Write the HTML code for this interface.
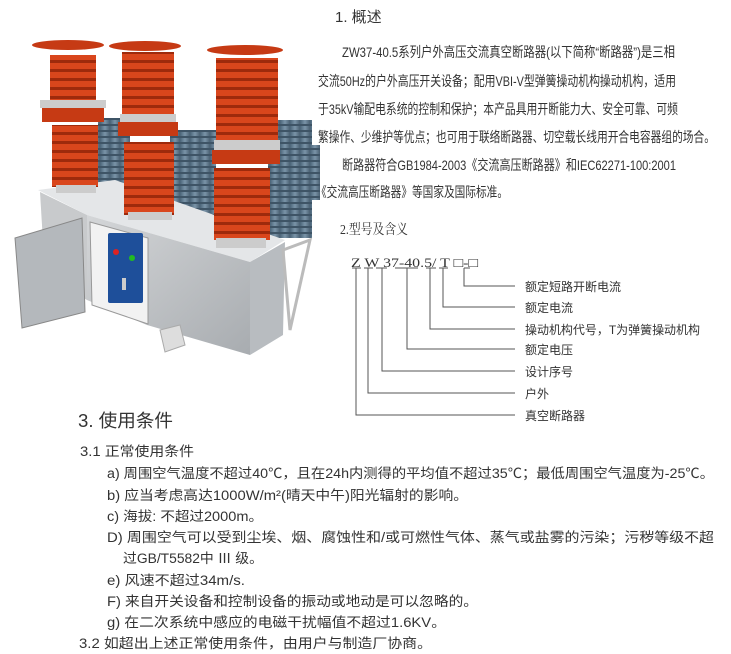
<!DOCTYPE html>
<html><head><meta charset="utf-8"><style>
html,body{margin:0;padding:0;background:#fff;width:731px;height:654px;overflow:hidden}
text{font-family:"Liberation Sans","Noto Sans CJK SC",sans-serif;fill:#333}
.s{font-family:"Liberation Serif","Noto Serif CJK SC",serif}
</style></head><body>
<svg width="731" height="654" viewBox="0 0 731 654" xmlns="http://www.w3.org/2000/svg">
<defs>
<linearGradient id="blu" x1="0" x2="1"><stop offset="0" stop-color="#4a6478"/><stop offset=".5" stop-color="#7a94a8"/><stop offset="1" stop-color="#4a6072"/></linearGradient>
<linearGradient id="met" x1="0" x2="1" y1="0" y2="1"><stop offset="0" stop-color="#d4d6d8"/><stop offset="1" stop-color="#a8acb0"/></linearGradient>
<pattern id="sh" width="10" height="6" patternUnits="userSpaceOnUse"><rect width="10" height="6" fill="url(#blu)"/><rect y="4" width="10" height="2" fill="#3e5466"/></pattern>
<pattern id="rs" width="10" height="9" patternUnits="userSpaceOnUse"><rect width="10" height="9" fill="#d9461c"/><rect y="6" width="10" height="3" fill="#9e2a0c"/></pattern>
</defs>
<rect x="98" y="118" width="32" height="78" fill="url(#sh)"/>
<rect x="170" y="130" width="46" height="85" fill="url(#sh)"/>
<rect x="268" y="120" width="44" height="118" fill="url(#sh)"/>
<rect x="288" y="145" width="32" height="55" fill="url(#sh)"/>
<polygon points="38,190 115,180 285,240 250,262 87,215" fill="#e4e6e8"/>
<polygon points="40,192 87,215 87,300 45,275" fill="#c8cacc"/>
<polygon points="87,215 250,262 250,355 147,325 87,300" fill="url(#met)"/>
<polygon points="250,262 285,242 283,335 250,355" fill="#b8bcc0"/>
<polygon points="283,250 310,240 290,330" fill="none" stroke="#bbb" stroke-width="3"/>
<polygon points="160,330 180,325 185,345 165,352" fill="#ddd" stroke="#aaa"/>
<polygon points="90,222 148,238 148,324 92,305" fill="#f2f2f2" stroke="#999"/>
<rect x="108" y="233" width="35" height="70" rx="2" fill="#1e4f9a"/>
<circle cx="116" cy="252" r="3" fill="#d22"/><circle cx="132" cy="258" r="3" fill="#2b2"/>
<rect x="122" y="278" width="4" height="12" fill="#ccc"/>
<polygon points="15,238 82,218 85,312 22,328" fill="#b4b8bc" stroke="#888"/>
<g>
<rect x="50" y="55" width="46" height="55" fill="url(#rs)"/>
<rect x="40" y="100" width="66" height="8" fill="#ccc"/>
<rect x="42" y="108" width="62" height="14" fill="#c63a14"/>
<rect x="52" y="125" width="46" height="62" fill="url(#rs)"/>
<rect x="56" y="185" width="40" height="8" fill="#ccc"/>
<ellipse cx="68" cy="45" rx="36" ry="5" fill="#c63a14"/>
<rect x="122" y="52" width="52" height="62" fill="url(#rs)"/>
<rect x="120" y="114" width="56" height="8" fill="#ccc"/>
<rect x="118" y="122" width="60" height="14" fill="#c63a14"/>
<rect x="124" y="142" width="50" height="73" fill="url(#rs)"/>
<rect x="128" y="212" width="44" height="8" fill="#ccc"/>
<ellipse cx="145" cy="46" rx="36" ry="5" fill="#c63a14"/>
<rect x="216" y="58" width="62" height="82" fill="url(#rs)"/>
<rect x="214" y="140" width="66" height="10" fill="#ccc"/>
<rect x="212" y="150" width="68" height="14" fill="#c63a14"/>
<rect x="214" y="168" width="56" height="72" fill="url(#rs)"/>
<rect x="216" y="238" width="50" height="10" fill="#ccc"/>
<ellipse cx="245" cy="50" rx="38" ry="5" fill="#c63a14"/>
</g>
<text x="335" y="22" font-size="15">1. 概述</text>
<g font-size="14">
<text x="342" y="57" textLength="333" lengthAdjust="spacingAndGlyphs">ZW37-40.5系列户外高压交流真空断路器(以下简称“断路器”)是三相</text>
<text x="318" y="86" textLength="358" lengthAdjust="spacingAndGlyphs">交流50Hz的户外高压开关设备；配用VBI-V型弹簧操动机构操动机构，适用</text>
<text x="318" y="114" textLength="360" lengthAdjust="spacingAndGlyphs">于35kV输配电系统的控制和保护；本产品具用开断能力大、安全可靠、可频</text>
<text x="318" y="142" textLength="397" lengthAdjust="spacingAndGlyphs">繁操作、少维护等优点；也可用于联络断路器、切空载长线用开合电容器组的场合。</text>
<text x="342" y="170" textLength="334" lengthAdjust="spacingAndGlyphs">断路器符合GB1984-2003《交流高压断路器》和IEC62271-100:2001</text>
<text x="316" y="197" textLength="192" lengthAdjust="spacingAndGlyphs">《交流高压断路器》等国家及国际标准。</text>
</g>
<text x="340" y="234" font-size="14" class="s" textLength="68" lengthAdjust="spacingAndGlyphs">2.型号及含义</text>
<text x="351" y="267" font-size="13" class="s" textLength="127" lengthAdjust="spacingAndGlyphs">Z W 37-40.5/ T □-□</text>
<g stroke="#555" stroke-width="1" fill="none">
<path d="M352 268H361M356 268V415H515"/>
<path d="M364 268H373M368 268V393H515"/>
<path d="M376 268H387M382 268V371H515"/>
<path d="M395 268H418M407 268V349H515"/>
<path d="M426 268H436M430 268V329H515"/>
<path d="M439 268H448M443 268V307H515"/>
<path d="M464 268H470M464 268V286H515"/>
</g>
<g font-size="12">
<text x="525" y="291">额定短路开断电流</text>
<text x="525" y="312">额定电流</text>
<text x="525" y="334" textLength="175" lengthAdjust="spacingAndGlyphs">操动机构代号，T为弹簧操动机构</text>
<text x="525" y="354">额定电压</text>
<text x="525" y="376">设计序号</text>
<text x="525" y="398">户外</text>
<text x="525" y="420">真空断路器</text>
</g>
<text x="78" y="427" font-size="18" textLength="95" lengthAdjust="spacingAndGlyphs">3. 使用条件</text>
<g font-size="13.5">
<text x="80" y="456" textLength="114" lengthAdjust="spacingAndGlyphs">3.1 正常使用条件</text>
<text x="107" y="478" textLength="607" lengthAdjust="spacingAndGlyphs">a) 周围空气温度不超过40℃，且在24h内测得的平均值不超过35℃；最低周围空气温度为-25℃。</text>
<text x="107" y="500" textLength="361" lengthAdjust="spacingAndGlyphs">b) 应当考虑高达1000W/m²(晴天中午)阳光辐射的影响。</text>
<text x="107" y="521" textLength="156" lengthAdjust="spacingAndGlyphs">c) 海拔: 不超过2000m。</text>
<text x="107" y="542" textLength="607" lengthAdjust="spacingAndGlyphs">D) 周围空气可以受到尘埃、烟、腐蚀性和/或可燃性气体、蒸气或盐雾的污染；污秽等级不超</text>
<text x="123" y="563" textLength="140" lengthAdjust="spacingAndGlyphs">过GB/T5582中 Ⅲ 级。</text>
<text x="107" y="585" textLength="138" lengthAdjust="spacingAndGlyphs">e) 风速不超过34m/s.</text>
<text x="107" y="606" textLength="371" lengthAdjust="spacingAndGlyphs">F) 来自开关设备和控制设备的振动或地动是可以忽略的。</text>
<text x="107" y="627" textLength="339" lengthAdjust="spacingAndGlyphs">g) 在二次系统中感应的电磁干扰幅值不超过1.6KV。</text>
<text x="79" y="648" textLength="353" lengthAdjust="spacingAndGlyphs">3.2 如超出上述正常使用条件，由用户与制造厂协商。</text>
</g>
</svg>
</body></html>
